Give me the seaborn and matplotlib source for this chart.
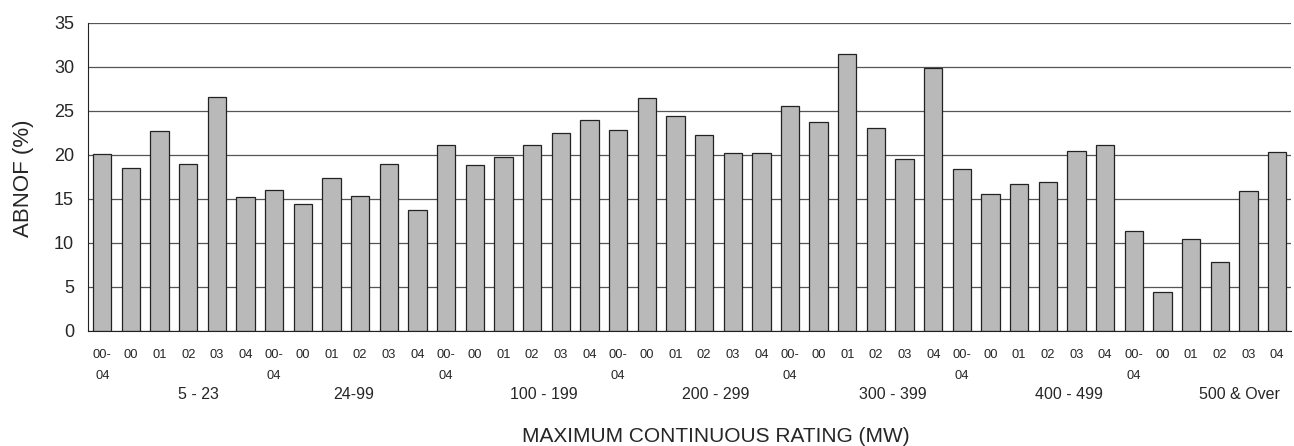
import matplotlib
matplotlib.use("Agg")
import matplotlib.pyplot as plt
from matplotlib.ticker import FixedLocator, MultipleLocator
import numpy as np
import pandas as pd
import seaborn as sns

# ---- data ----
groups = ["5 - 23", "24-99", "100 - 199", "200 - 299", "300 - 399", "400 - 499", "500 & Over"]
periods = ["00-\n04", "00", "01", "02", "03", "04"]
abnof_5_23 = [20.1, 18.5, 22.7, 19.0, 26.6, 15.2]
abnof_24_99 = [16.0, 14.4, 17.4, 15.3, 19.0, 13.7]
abnof_100_199 = [21.1, 18.8, 19.8, 21.1, 22.5, 23.9]
abnof_200_299 = [22.8, 26.5, 24.4, 22.3, 20.2, 20.2]
abnof_300_399 = [25.5, 23.7, 31.4, 23.0, 19.5, 29.9]
abnof_400_499 = [18.4, 15.5, 16.7, 16.9, 20.4, 21.1]
abnof_500_over = [11.3, 4.4, 10.4, 7.8, 15.9, 20.3]
series = [abnof_5_23, abnof_24_99, abnof_100_199, abnof_200_299,
          abnof_300_399, abnof_400_499, abnof_500_over]

rows = []
for g, vals in zip(groups, series):
    for p, v in zip(periods, vals):
        rows.append({"bar": f"{g}|{p}", "group": g, "period": p, "value": v})
df = pd.DataFrame(rows)
order = list(df["bar"])

# ---- figure ----
sns.set_style("white")
plt.rcParams["font.family"] = ["Liberation Sans", "DejaVu Sans"]

fig = plt.figure(figsize=(12.94, 4.46), dpi=100)
ax = fig.add_axes([0.068, 0.258, 0.930, 0.691])

sns.barplot(data=df, x="bar", y="value", order=order, color="#b9b9b9",
            saturation=1, width=0.64, edgecolor="#222222", linewidth=0.9, ax=ax)

ax.set_ylim(0, 35)
ax.set_xlim(-0.5, len(order) - 0.5)
ax.yaxis.set_major_locator(MultipleLocator(5))
ax.grid(axis="y", color="#555555", linewidth=0.9)
ax.set_axisbelow(True)
ax.tick_params(axis="y", labelsize=13, length=0, pad=10)
ax.set_ylabel("")
ax.set_xlabel("")
fig.text(23 / 1294, 1 - 178 / 446, "ABNOF (%)", rotation=90, ha="center",
         va="center", fontsize=16)

# x tick labels: period codes
ax.set_xticks(range(len(order)))
ax.set_xticklabels(list(df["period"]), fontsize=9.3, va="top", linespacing=2.05)
ax.tick_params(axis="x", length=0, pad=13)
ax.xaxis.set_minor_locator(FixedLocator(np.arange(-0.5, len(order), 1.0)))
ax.tick_params(axis="x", which="minor", length=5, width=0.8, color="#222222",
               direction="inout")

for s in ["top", "right"]:
    ax.spines[s].set_visible(False)
ax.spines["left"].set_color("#222222")
ax.spines["bottom"].set_color("#222222")

# group labels (third row), placed as in the reference
group_x = [3.35, 8.78, 15.42, 21.41, 27.6, 33.73, 39.7]
for gx, g in zip(group_x, groups):
    ax.text(gx, -0.207, g, transform=ax.get_xaxis_transform(), ha="center",
            va="center", fontsize=11.5)

fig.text(0.553, 0.022, "MAXIMUM CONTINUOUS RATING (MW)", ha="center",
         va="center", fontsize=15)

fig.savefig("out.png", dpi=100)
